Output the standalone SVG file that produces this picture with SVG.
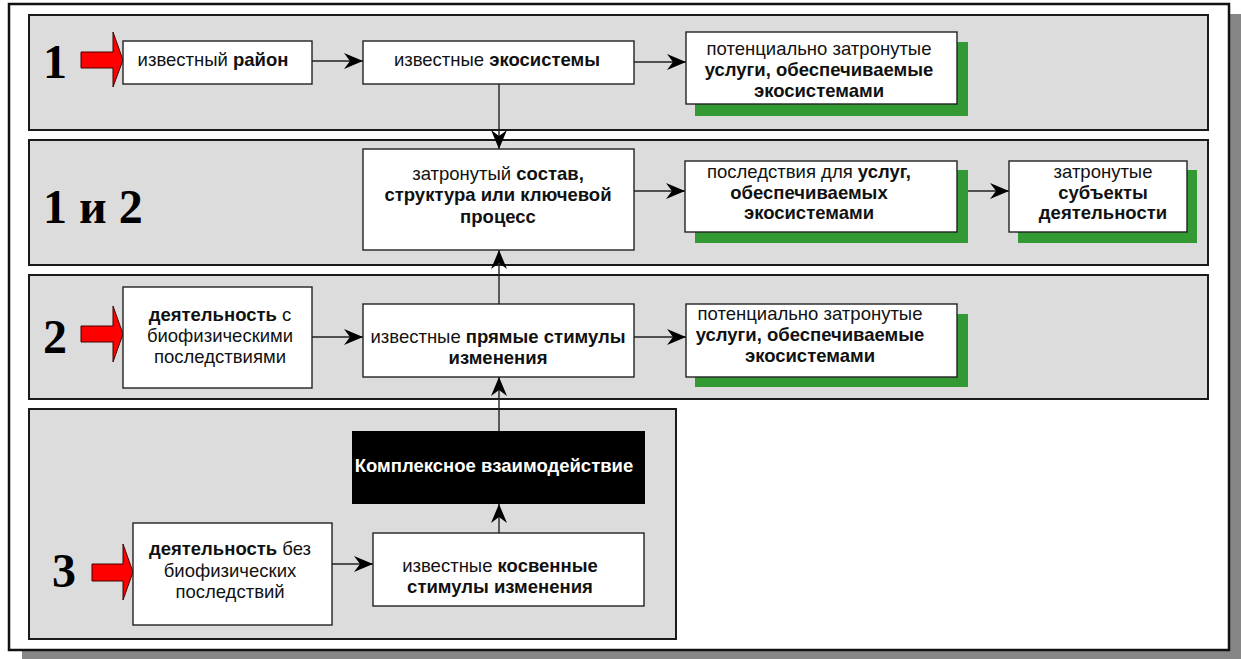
<svg xmlns="http://www.w3.org/2000/svg" width="1241" height="659" viewBox="0 0 1241 659">
<defs>
<style>
.band{fill:#dcdcdc;stroke:#1a1a1a;stroke-width:2}
.box{fill:#fff;stroke:#222;stroke-width:1.4}
.green{fill:#339933}
.t{font-family:"Liberation Sans",Arial,sans-serif;font-size:18.5px;fill:#111;text-anchor:middle}
.b{font-weight:bold}
.num{font-family:"Liberation Serif","Times New Roman",serif;font-size:48px;font-weight:bold;fill:#000}
.con{stroke:#222;stroke-width:1.4;fill:none;marker-end:url(#ah)}
.red{fill:#ff0000;stroke:#400;stroke-width:1}
</style>
<marker id="ah" viewBox="-20 -9 20 18" refX="0" refY="0" markerWidth="20" markerHeight="18" markerUnits="userSpaceOnUse" orient="auto">
<path d="M0,0 L-19,-8 L-13,0 L-19,8 Z" fill="#000"/>
</marker>
</defs>
<rect x="22" y="14" width="1219" height="645" fill="#868686"/>
<rect x="9" y="4" width="1220" height="646" fill="#fff" stroke="#111" stroke-width="2.5"/>

<g id="band1"><rect class="band" x="29" y="15" width="1179" height="115"/><text class="num" x="43" y="78">1</text></g>
<g id="band12"><rect class="band" x="29" y="140" width="1179" height="125"/><text class="num" x="43" y="223">1 и 2</text></g>
<g id="band2"><rect class="band" x="29" y="275" width="1179" height="124"/><text class="num" x="43" y="353">2</text></g>
<g id="band3"><rect class="band" x="29" y="409" width="647" height="230"/><text class="num" x="52" y="587">3</text></g>

<g id="inputs">
<polygon class="red" points="81,52 113,52 113,32 123,60 113,87 113,68 81,68"/>
<polygon class="red" points="81,326 113,326 113,306 123,334 113,362 113,342 81,342"/>
<polygon class="red" points="92,564 123,564 123,544 133,572 123,600 123,581 92,581"/>
</g>

<g id="connectors">
<line class="con" x1="312" y1="61" x2="363" y2="61"/>
<line class="con" x1="634" y1="62" x2="686" y2="62"/>
<line class="con" x1="499" y1="84" x2="499" y2="149"/>
<line class="con" x1="634" y1="191" x2="685" y2="191"/>
<line class="con" x1="957" y1="191" x2="1009" y2="191"/>
<line class="con" x1="499" y1="304" x2="499" y2="250"/>
<line class="con" x1="312" y1="337" x2="363" y2="337"/>
<line class="con" x1="634" y1="337" x2="686" y2="337"/>
<line class="con" x1="499" y1="431" x2="499" y2="377"/>
<line class="con" x1="499" y1="533" x2="499" y2="504"/>
<line class="con" x1="332" y1="564" x2="373" y2="564"/>
</g>

<g id="node-area">
<rect class="box" x="123" y="41" width="189" height="43"/>
<text class="t" x="213" y="66">известный <tspan class="b">район</tspan></text>
</g>
<g id="node-ecosystems">
<rect class="box" x="363" y="41" width="271" height="43"/>
<text class="t" x="497" y="66">известные <tspan class="b">экосистемы</tspan></text>
</g>
<g id="node-services1">
<rect class="green" x="695" y="42" width="273" height="74"/>
<rect class="box" x="686" y="32" width="271" height="72"/>
<text class="t" x="819" y="55">потенциально затронутые</text>
<text class="t b" x="819" y="76">услуги, обеспечиваемые</text>
<text class="t b" x="819" y="97">экосистемами</text>
</g>
<g id="node-structure">
<rect class="box" x="363" y="149" width="271" height="101"/>
<text class="t" x="498" y="180">затронутый <tspan class="b">состав,</tspan></text>
<text class="t b" x="498" y="201">структура или ключевой</text>
<text class="t b" x="498" y="223">процесс</text>
</g>
<g id="node-consequences">
<rect class="green" x="695" y="170" width="273" height="73"/>
<rect class="box" x="685" y="161" width="272" height="71"/>
<text class="t" x="809" y="178">последствия для <tspan class="b">услуг,</tspan></text>
<text class="t b" x="809" y="199">обеспечиваемых</text>
<text class="t b" x="809" y="219">экосистемами</text>
</g>
<g id="node-actors">
<rect class="green" x="1018" y="170" width="179" height="73"/>
<rect class="box" x="1009" y="161" width="178" height="71"/>
<text class="t" x="1103" y="178">затронутые</text>
<text class="t b" x="1103" y="199">субъекты</text>
<text class="t b" x="1103" y="219">деятельности</text>
</g>
<g id="node-activity-bio">
<rect class="box" x="123" y="287" width="189" height="101"/>
<text class="t" x="220" y="321"><tspan class="b">деятельность</tspan> с</text>
<text class="t" x="220" y="342">биофизическими</text>
<text class="t" x="220" y="363">последствиями</text>
</g>
<g id="node-direct">
<rect class="box" x="363" y="304" width="271" height="73"/>
<text class="t" x="498" y="343">известные <tspan class="b">прямые стимулы</tspan></text>
<text class="t b" x="498" y="364">изменения</text>
</g>
<g id="node-services2">
<rect class="green" x="695" y="314" width="273" height="73"/>
<rect class="box" x="686" y="304" width="271" height="73"/>
<text class="t" x="810" y="320">потенциально затронутые</text>
<text class="t b" x="810" y="341">услуги, обеспечиваемые</text>
<text class="t b" x="810" y="362">экосистемами</text>
</g>
<g id="node-complex">
<rect x="352" y="431" width="293" height="73" fill="#000"/>
<text class="t b" x="494" y="472" style="fill:#fff">Комплексное взаимодействие</text>
</g>
<g id="node-activity-nobio">
<rect class="box" x="133" y="523" width="199" height="102"/>
<text class="t" x="230" y="555"><tspan class="b">деятельность</tspan> без</text>
<text class="t" x="230" y="577">биофизических</text>
<text class="t" x="230" y="598">последствий</text>
</g>
<g id="node-indirect">
<rect class="box" x="373" y="533" width="271" height="73"/>
<text class="t" x="500" y="572">известные <tspan class="b">косвенные</tspan></text>
<text class="t b" x="500" y="593">стимулы изменения</text>
</g>
</svg>
